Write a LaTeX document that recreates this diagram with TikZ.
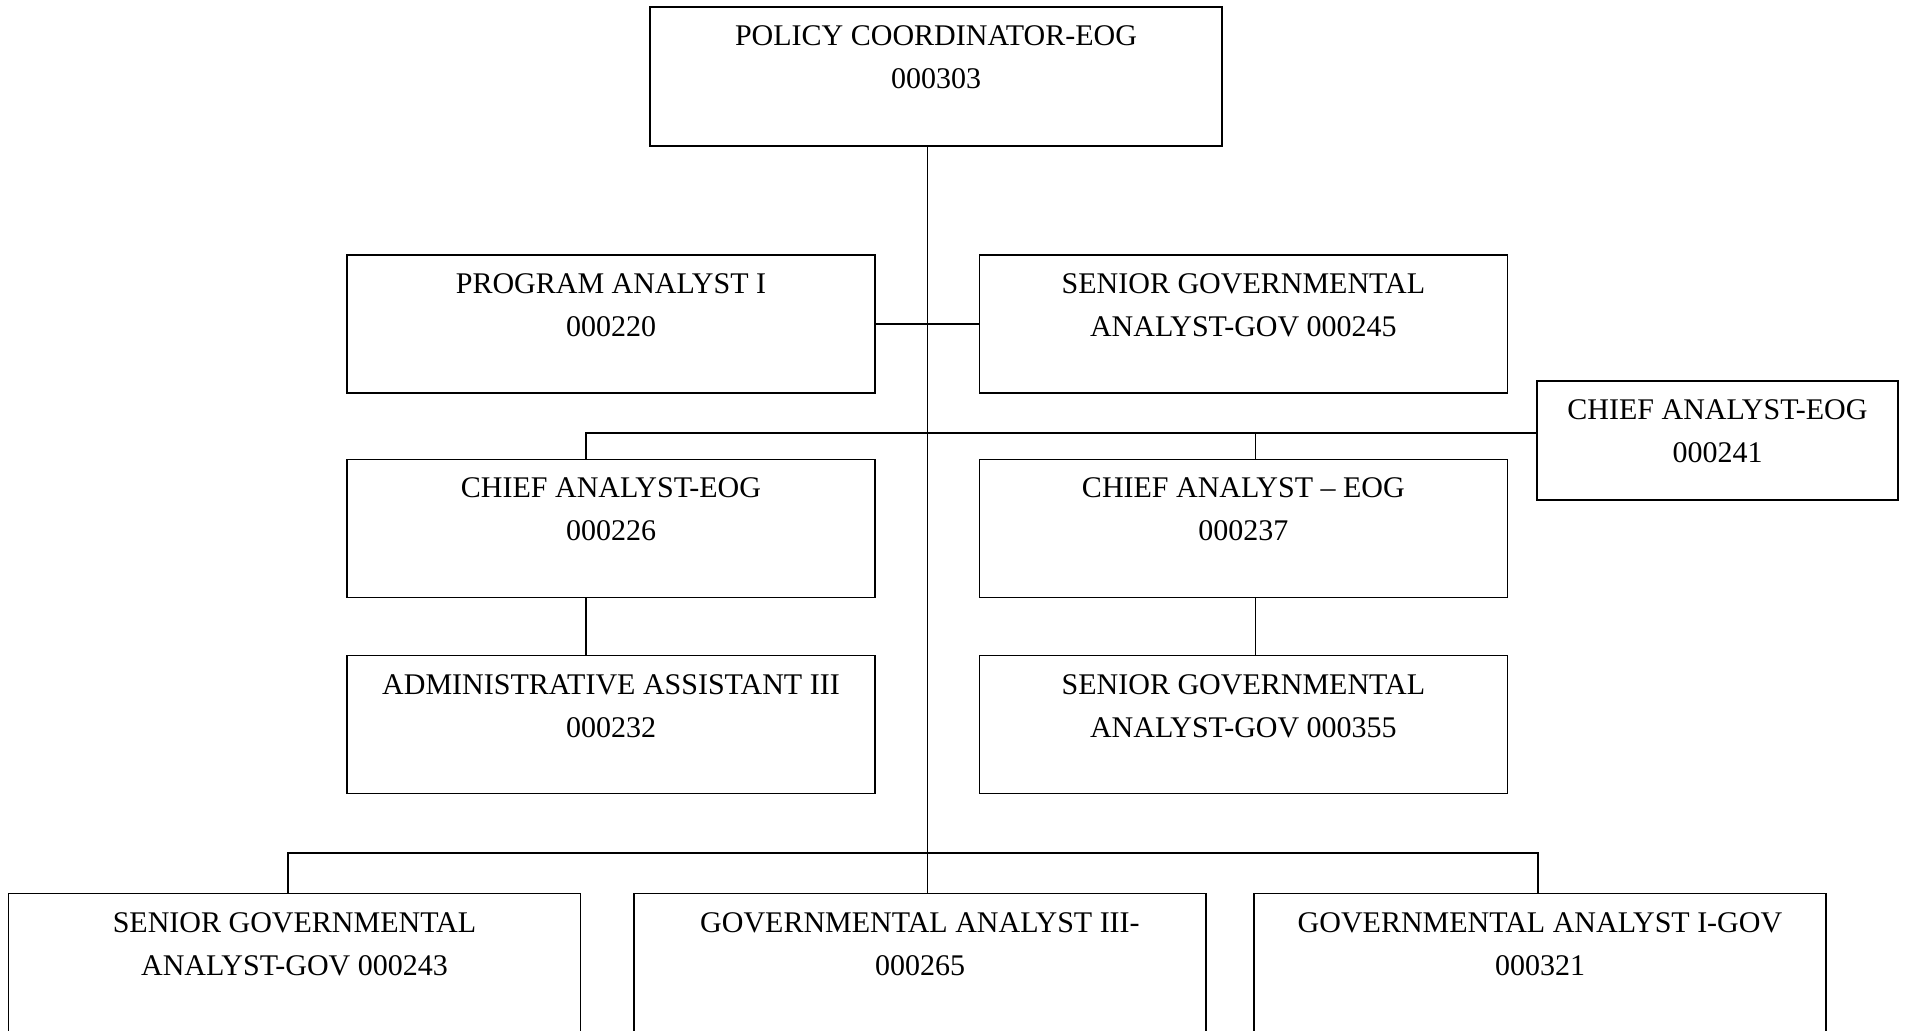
\documentclass[tikz,border=0pt]{standalone}
\usepackage{fontspec}
\setmainfont{Liberation Serif}
\usepackage{tikz}
\usetikzlibrary{positioning, calc}

\begin{document}
\begin{tikzpicture}[x=0.5pt, y=-0.5pt]
    % Define styles
    \tikzstyle{post} = [rectangle, draw=black, line width=0.7pt, minimum width=264pt, minimum height=69pt, inner sep=0pt]
    \tikzstyle{widepost} = [post, minimum width=286pt]
    \tikzstyle{posttext} = [anchor=north, yshift=-9.5pt, inner sep=0pt, align=center, font=\fontsize{15}{21.5}\selectfont]
    \tikzstyle{line} = [line width=0.7pt]

    \clip (0,0) rectangle (1908,1031);

    % Nodes
    \node (pc) [widepost, minimum height=69.5pt, label={[posttext]north:POLICY COORDINATOR-EOG\\000303}] at (936,76.5) {};
    \node (pa1) [post, label={[posttext]north:PROGRAM ANALYST I\\000220}] at (611,324) {};
    \node (sga245) [post, right=51.5pt of pa1, label={[posttext]north:SENIOR GOVERNMENTAL\\ANALYST-GOV 000245}] {};
    \node (ca226) [post, below=32.5pt of pa1, label={[posttext]north:CHIEF ANALYST-EOG\\000226}] {};
    \node (ca237) [post, below=32.5pt of sga245, label={[posttext]north:CHIEF ANALYST – EOG\\000237}] {};
    \node (ca241) [post, minimum width=180.5pt, minimum height=59.5pt, label={[posttext]north:CHIEF ANALYST-EOG\\000241}] at (1717.5,440.5) {};
    \node (admin232) [post, below=28.5pt of ca226, label={[posttext]north:ADMINISTRATIVE ASSISTANT III\\000232}] {};
    \node (sga355) [post, below=28.5pt of ca237, label={[posttext]north:SENIOR GOVERNMENTAL\\ANALYST-GOV 000355}] {};
    \node (sga243) [widepost, minimum height=90pt, anchor=north, label={[posttext]north:SENIOR GOVERNMENTAL\\ANALYST-GOV 000243}] at (294.5,893) {};
    \node (ga265) [widepost, minimum height=90pt, anchor=north, label={[posttext]north:GOVERNMENTAL ANALYST III-\\000265}] at (920,893) {};
    \node (ga321) [widepost, minimum height=90pt, anchor=north, label={[posttext]north:GOVERNMENTAL ANALYST I-GOV\\000321}] at (1540,893) {};

    % Lines
    \coordinate (trunk) at ($(pa1.east)!0.5!(sga245.west)$);
    \coordinate (branch) at ($(ca241.west)+(0,3.75pt)$);
    \coordinate (drop226) at ($(ca226.north)+(-12.5pt,0)$);
    \coordinate (drop237) at ($(ca237.north)+(6pt,0)$);
    \coordinate (branch2) at ($(ga265.north)+(0,20pt)$);
    \coordinate (drop243) at ($(sga243.north)+(-3.25pt,0)$);
    \coordinate (drop321) at ($(ga321.north)+(-1pt,0)$);

    \draw [line] (pc.south -| trunk) -- (ga265.north -| trunk);
    \draw [line] (pa1) -- (sga245);
    \draw [line] (branch) -| (drop226);
    \draw [line] (drop237) -- (drop237 |- branch);
    \draw [line] (drop226 |- ca226.south) -- (drop226 |- admin232.north);
    \draw [line] (drop237 |- ca237.south) -- (drop237 |- sga355.north);
    \draw [line] (drop243) |- (branch2) -| (drop321);
\end{tikzpicture}
\end{document}
